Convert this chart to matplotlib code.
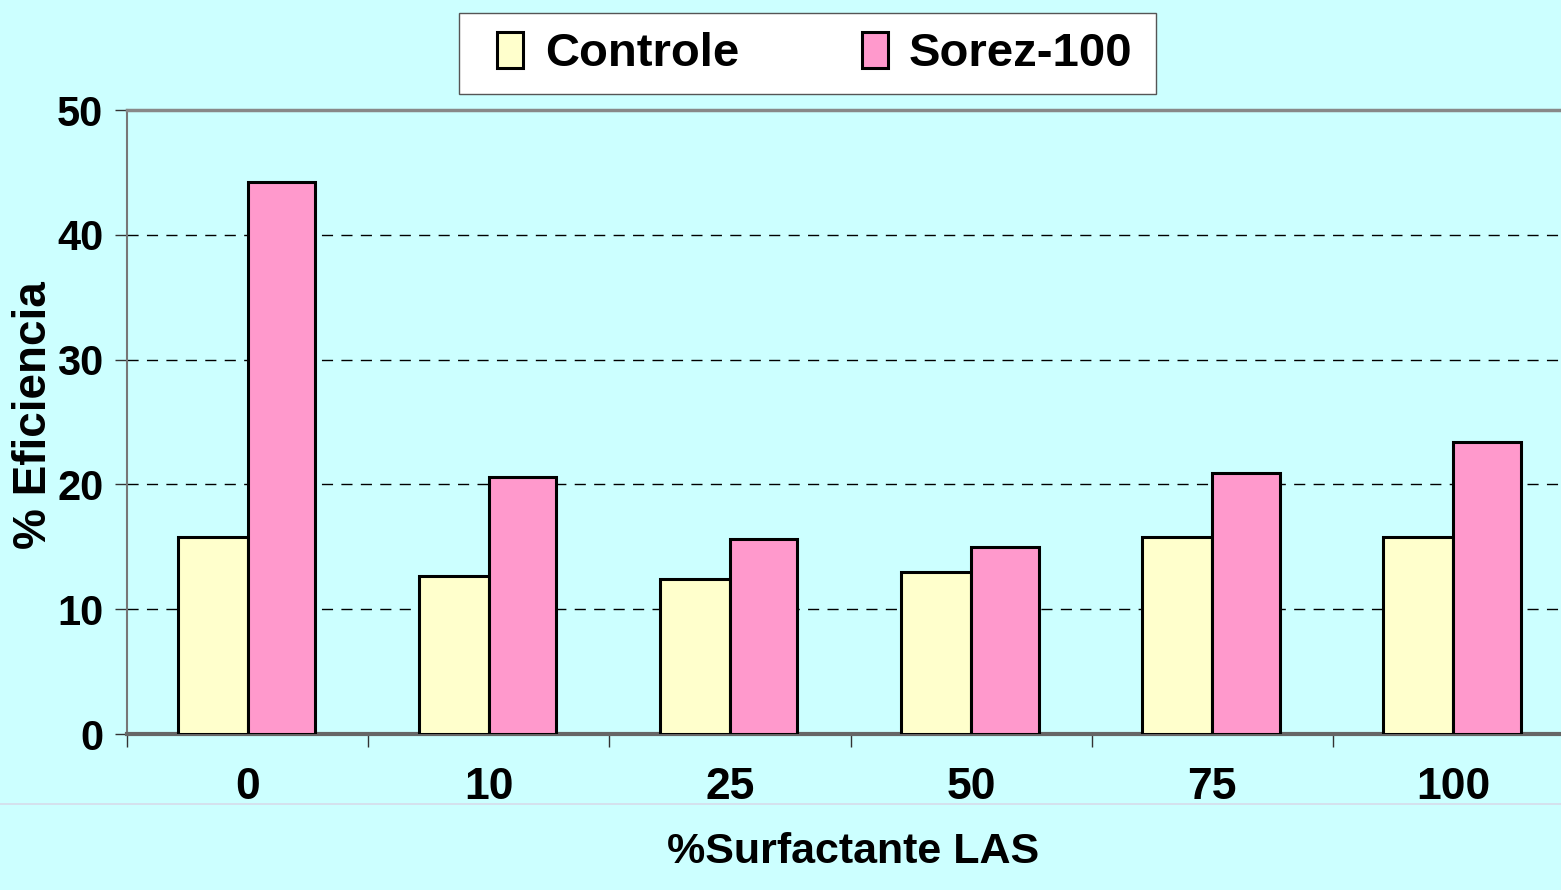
import matplotlib
matplotlib.use('Agg')
import matplotlib.pyplot as plt
from matplotlib.patches import Rectangle
from matplotlib.lines import Line2D
import numpy as np

plt.rcParams['font.family'] = ['Liberation Sans', 'DejaVu Sans']
plt.rcParams['font.weight'] = 'bold'

categories = ['0', '10', '25', '50', '75', '100']
controle = [15.8, 12.7, 12.45, 13.0, 15.8, 15.8]
sorez = [44.2, 20.6, 15.6, 15.0, 20.9, 23.4]
yticks = [0, 10, 20, 30, 40, 50]

W, H = 1561, 890
bg = '#CCFFFF'

fig = plt.figure(figsize=(W / 100, H / 100), dpi=100, facecolor=bg)
# plot area runs a bit past the right edge of the picture, as in the reference
ax = fig.add_axes([127 / W, 1 - 734 / H, 1447 / W, 624 / H])
ax.set_facecolor(bg)

x = np.arange(len(categories))
bw = 0.29
ax.bar(x - bw, controle, width=bw, align='edge', color='#FFFFCC',
       edgecolor='black', linewidth=2.2, label='Controle', zorder=3)
ax.bar(x, sorez, width=0.28, align='edge', color='#FF99CC',
       edgecolor='black', linewidth=2.2, label='Sorez-100', zorder=3)

ax.set_xlim(-0.5, len(categories) - 0.5)
ax.set_ylim(0, 50)
ax.set_yticks(yticks)
ax.set_yticklabels([str(v) for v in yticks], fontsize=30, fontweight='bold')
ax.tick_params(axis='y', direction='out', length=9, width=1, color='#333333', pad=8)

# tick marks between groups, labels at group centres
ax.set_xticks(np.arange(-0.5, len(categories) + 0.5, 1))
ax.set_xticklabels([])
ax.set_xticks(x, minor=True)
ax.set_xticklabels(categories, minor=True, fontsize=32, fontweight='bold')
ax.tick_params(axis='x', which='major', direction='out', length=9, width=1, color='#333333')
ax.tick_params(axis='x', which='minor', length=0, pad=24)

for v in yticks[1:-1]:
    ax.axhline(v, color='black', linestyle=(0, (8, 6)), linewidth=1, zorder=1)

ax.spines['top'].set_color('#888888')
ax.spines['top'].set_linewidth(2.5)
ax.spines['left'].set_color('#777777')
ax.spines['left'].set_linewidth(1.5)
ax.spines['bottom'].set_color('#666666')
ax.spines['bottom'].set_linewidth(3)
ax.spines['right'].set_visible(False)

ax.set_ylabel('% Eficiencia', fontsize=33, fontweight='bold')
ax.set_xlabel('%Surfactante LAS', fontsize=31, fontweight='bold')
ax.xaxis.set_label_coords((853 - 127) / 1447, -(832 - 734) / 624)
ax.yaxis.set_label_coords(-(127 - 56) / 1447, (734 - 415) / 624)

# faint separator line under the tick labels
fig.add_artist(Line2D([0, 1], [1 - 804 / H, 1 - 804 / H], transform=fig.transFigure,
                      color='#D6DCEA', linewidth=1.2))

# legend box
fig.patches.append(Rectangle((459 / W, 1 - 94 / H), 697 / W, 81 / H,
                             transform=fig.transFigure, facecolor='white',
                             edgecolor='#555555', linewidth=1, zorder=5))
leg = fig.legend(loc='center', bbox_to_anchor=(815 / W, 1 - 54 / H), ncol=2,
                 frameon=False, handlelength=0.55, handleheight=0.8,
                 handletextpad=0.45, columnspacing=2.6, prop={'weight': 'bold', 'size': 34})
leg.set_zorder(6)

fig.savefig('out.png', dpi=100, facecolor=bg)
